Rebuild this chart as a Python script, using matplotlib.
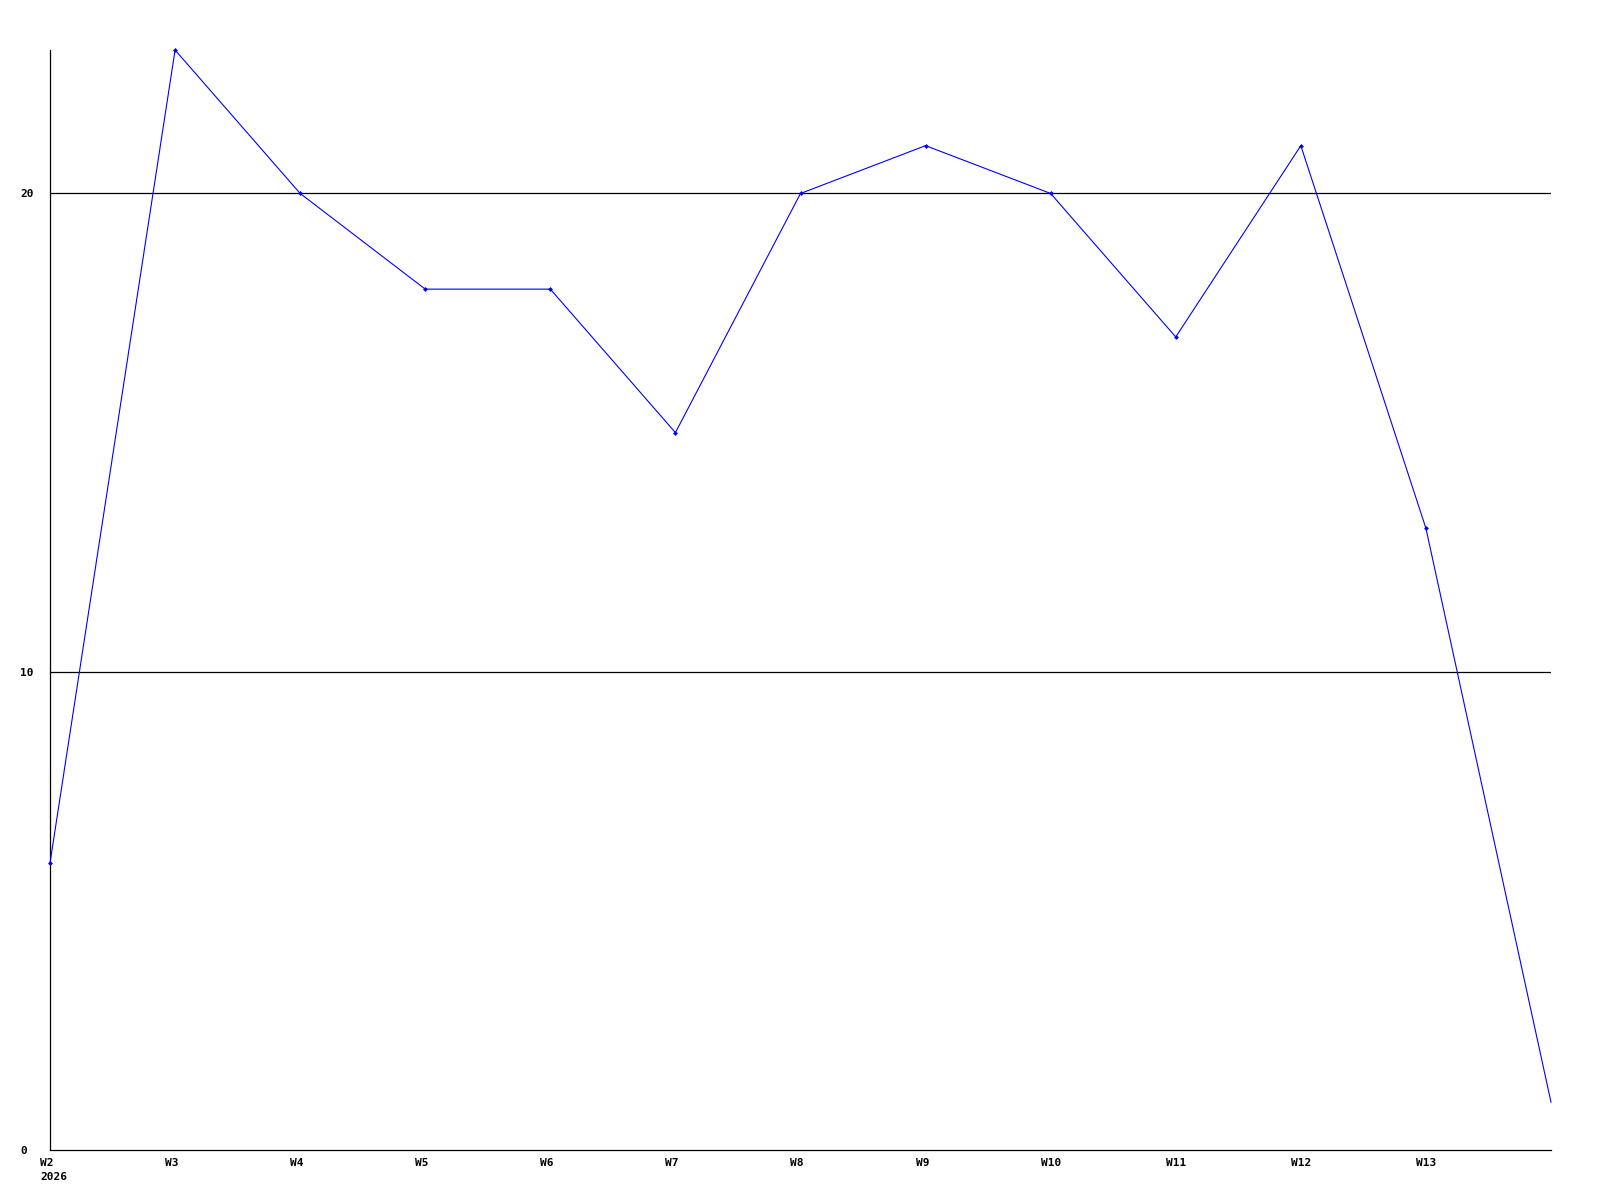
import matplotlib
matplotlib.use("Agg")
import matplotlib.pyplot as plt
import matplotlib.transforms as mtransforms

# weekly values
weeks = ["W2", "W3", "W4", "W5", "W6", "W7", "W8", "W9", "W10", "W11", "W12", "W13", ""]
values = [6, 23, 20, 18, 18, 15, 20, 21, 20, 17, 21, 13, 1]
year_label = "2026"
y_ticks = [0, 10, 20]

fig = plt.figure(figsize=(16, 12), dpi=100)
ax = fig.add_axes([50 / 1600, 50 / 1200, 1501 / 1600, 1100 / 1200])

x = list(range(len(values)))
# last point is the open week, drawn without a marker
ax.plot(x, values, color="#0000ff", linewidth=0.8, marker="D", markersize=2.5,
        markerfacecolor="#0000ff", markeredgewidth=0, markevery=list(range(len(values) - 1)),
        clip_on=False, zorder=3)

ax.set_xlim(0, len(values) - 1)
ax.set_ylim(0, 23)

for v in y_ticks[1:]:
    ax.axhline(v, color="black", linewidth=0.9, zorder=1)

for side in ["top", "right"]:
    ax.spines[side].set_visible(False)
for side in ["left", "bottom"]:
    ax.spines[side].set_color("black")
    ax.spines[side].set_linewidth(0.9)

font = dict(family="DejaVu Sans Mono", weight="bold", size=8)

ax.set_xticks(x)
ax.set_xticklabels(weeks, ha="left", **font)
ax.tick_params(axis="x", length=0, pad=6)
dx = mtransforms.ScaledTranslation(-10 / 100, 0, fig.dpi_scale_trans)
for lbl in ax.get_xticklabels():
    lbl.set_transform(lbl.get_transform() + dx)

ax.set_yticks(y_ticks)
ax.set_yticklabels([str(v) for v in y_ticks], ha="left", **font)
ax.tick_params(axis="y", length=0, pad=0)
dy = mtransforms.ScaledTranslation(-30 / 100, 0, fig.dpi_scale_trans)
for lbl in ax.get_yticklabels():
    lbl.set_transform(lbl.get_transform() + dy)

ax.text(0, 0, year_label,
        transform=ax.get_xaxis_transform() + mtransforms.ScaledTranslation(-10 / 100, -22 / 100, fig.dpi_scale_trans),
        ha="left", va="top", **font)

fig.savefig("out.png", dpi=100, facecolor="white")
